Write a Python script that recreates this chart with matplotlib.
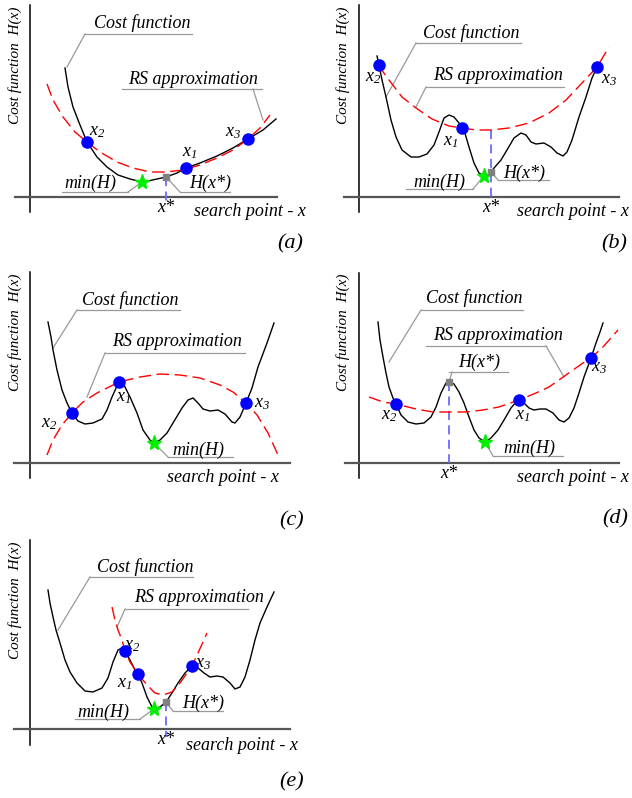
import numpy as np
import matplotlib.pyplot as plt

plt.rcParams['font.family'] = ['Liberation Serif', 'DejaVu Serif']
plt.rcParams['font.style'] = 'italic'
plt.rcParams['mathtext.fontset'] = 'custom'
plt.rcParams['mathtext.it'] = 'Liberation Serif:italic'
plt.rcParams['mathtext.rm'] = 'Liberation Serif:italic'

# values (x = distance from y axis, y = height above x axis)
# --- (a)
cost_a_x = [35, 38, 43, 50, 57, 67, 77, 88, 100, 112, 118, 127, 136, 147, 156, 170, 187, 203, 218, 233, 246]
cost_a_y = [129, 110, 90, 72, 55, 40, 30, 22, 18, 15, 16, 18, 20, 24, 29, 34, 41, 49, 58, 67, 78]
rs_a_x = [17, 23, 33, 45, 57, 70, 87, 103, 120, 136, 153, 170, 187, 203, 218, 230, 240]
rs_a_y = [113, 97, 80, 65, 55, 45, 35, 29, 25, 25, 27, 32, 39, 47, 58, 69, 82]
pts_a_x = [156, 57, 218]  # x1, x2, x3
pts_a_y = [29, 55, 58]
min_a = (112, 15)
hx_a = (136, 20)

# --- (b)
cost_b_x = [18, 20, 23, 27, 32, 37, 43, 52, 60, 68, 75, 80, 85, 90, 95, 100, 105, 110, 115, 120,
            125, 130, 135, 142, 148, 155, 162, 167, 172, 177, 185, 192, 198, 204, 208, 213, 220,
            227, 233, 239]
cost_b_y = [141, 132, 117, 100, 77, 60, 47, 40, 40, 43, 52, 65, 79, 82, 80, 74, 67, 50, 34, 24,
            21, 23, 29, 37, 47, 59, 64, 62, 55, 53, 54, 50, 44, 41, 45, 57, 80,
            100, 119, 132]
rs_b_x = [19, 30, 43, 57, 73, 90, 103, 117, 132, 150, 170, 190, 207, 223, 238, 250]
rs_b_y = [132, 117, 100, 89, 78, 71, 69, 67, 67, 69, 74, 84, 97, 114, 130, 150]
pts_b_x = [103, 20, 238]
pts_b_y = [69, 132, 130]
min_b = (125, 21)
hx_b = (132, 25)

# --- (c)
cost_c_x = [18, 21, 23, 27, 32, 37, 42, 48, 55, 63, 72, 77, 82, 87, 89, 94, 100, 107, 113, 120,
            124, 130, 137, 143, 152, 158, 163, 168, 173, 180, 188, 195, 202, 205, 210, 216, 222,
            228, 237, 244]
cost_c_y = [141, 126, 113, 93, 73, 60, 50, 42, 39, 40, 44, 53, 66, 77, 81, 78, 66, 50, 33, 23,
            20, 23, 30, 40, 55, 63, 65, 60, 54, 52, 53, 49, 41, 40, 46, 60, 75,
            96, 120, 140]
rs_c_x = [17, 23, 32, 42, 53, 67, 89, 110, 130, 150, 170, 190, 203, 216, 227, 238, 248]
rs_c_y = [8, 23, 38, 50, 61, 70, 81, 86, 89, 88, 85, 78, 71, 60, 48, 30, 8]
pts_c_x = [89, 42, 216]
pts_c_y = [81, 50, 60]
min_c = (124, 20)

# --- (d)
cost_d_x = [19, 21, 24, 27, 30, 34, 37, 42, 49, 57, 65, 72, 77, 82, 87, 90, 95, 100, 105, 110,
            115, 120, 126, 132, 139, 145, 152, 157, 160, 165, 170, 175, 181, 187, 194, 200, 205,
            210, 215, 220, 225, 232, 237, 241, 244]
cost_d_y = [141, 123, 106, 90, 76, 65, 59, 48, 41, 39, 40, 46, 56, 70, 80, 81, 79, 71, 60, 46,
            33, 25, 21, 25, 33, 43, 55, 61, 63, 60, 55, 53, 54, 54, 50, 43, 41,
            45, 55, 70, 86, 105, 120, 131, 140]
rs_d_x = [10, 24, 37, 57, 74, 90, 107, 124, 140, 160, 177, 190, 207, 224, 232, 244, 259]
rs_d_y = [66, 61, 59, 54, 51, 51, 51, 53, 56, 63, 70, 76, 88, 100, 105, 116, 133]
pts_d_x = [160, 37, 232]
pts_d_y = [63, 59, 105]
min_d = (126, 21)
hx_d = (90, 81)

# --- (e)
cost_e_x = [18, 20, 23, 26, 30, 35, 40, 47, 55, 63, 72, 78, 83, 88, 92, 95, 100, 105, 108, 112,
            117, 122, 124, 130, 136, 142, 148, 155, 162, 168, 174, 180, 187, 193, 200, 205, 210,
            215, 220, 225, 230, 237, 244]
cost_e_y = [139, 126, 112, 99, 86, 69, 57, 46, 38, 37, 41, 51, 67, 79, 81, 78, 69, 59, 55, 46,
            32, 22, 20, 22, 27, 36, 46, 56, 63, 61, 56, 52, 53, 52, 46, 40, 42,
            52, 69, 89, 106, 122, 137]
rs_e_x = [82, 85, 88, 92, 95, 100, 108, 117, 125, 133, 142, 150, 157, 162, 168, 173, 177]
rs_e_y = [122, 109, 99, 89, 78, 67, 55, 44, 36, 34, 37, 46, 56, 63, 76, 87, 96]
pts_e_x = [108, 95, 162]
pts_e_y = [55, 78, 63]
min_e = (124, 20)
hx_e = (136, 27)

FS = 13
GRAY = '#999999'


def callout(ax, text, tx, ty, ux0, ux1, uy, p0, p1):
    ax.text(tx, ty, text, fontsize=FS, ha='center', va='center')
    ax.plot([ux0, ux1], [uy, uy], color=GRAY, lw=0.9, clip_on=False)
    ax.plot([p0[0], p1[0]], [p0[1], p1[1]], color=GRAY, lw=0.9, clip_on=False)


def panel(box, origin, yspan, xspan):
    L, T, W, H = box
    ox, oy = origin
    ax = fig.add_axes([L / 632, 1 - (T + H) / 798, W / 632, H / 798])
    ax.set_xlim(L - ox, L + W - ox)
    ax.set_ylim(oy - (T + H), oy - T)
    ax.axis('off')
    ax.plot([0, 0], yspan, color='black', lw=1.1, clip_on=False)
    ax.plot(xspan, [0, 0], color='#555555', lw=1.6, clip_on=False)
    return ax


def draw(ax, cx, cy, rx, ry, px, py, star, labels, search, ylab, tag, square=None, xstar=None):
    ax.plot(cx, cy, color='black', lw=1.0, zorder=3)
    ax.plot(rx, ry, color='red', lw=1.0, dashes=(9, 4), zorder=3)
    if xstar is not None:
        ax.plot([xstar[0], xstar[0]], [xstar[1], xstar[2]], color='#6b6bff', lw=1.3,
                dashes=(5, 3), zorder=2, clip_on=False)
        ax.text(xstar[0], xstar[3], 'x*', fontsize=FS, ha='center', va='center')
    ax.plot(px, py, 'o', color='#0000ff', ms=8, zorder=5)
    ax.plot(*star, '*', color='#00ee00', ms=11, zorder=6)
    if square is not None:
        ax.plot(*square, 's', color='#808080', ms=5, zorder=6)
    for name, (lx, ly) in zip(['$x_1$', '$x_2$', '$x_3$'], labels):
        ax.text(lx, ly, name, fontsize=FS, ha='center', va='center')
    ax.text(search[0], search[1], 'search point - x', fontsize=FS, ha='center', va='center')
    ax.text(ylab[0], ylab[1], 'Cost function  H(x)', fontsize=11, rotation=90,
            ha='center', va='center')
    ax.text(tag[0], tag[1], tag[2], fontsize=16, ha='center', va='center')


fig = plt.figure(figsize=(6.32, 7.98), dpi=100)

# (a)
ax = panel((0, 0, 316, 265), (30, 197), [192, -15], [-15, 247])
draw(ax, cost_a_x, cost_a_y, rs_a_x, rs_a_y, pts_a_x, pts_a_y, min_a,
     [(160, 44), (67, 65), (203, 64)], (220, -15), (-15, 132), (260, -47, '(a)'),
     square=hx_a, xstar=(136, 20, -5, -11))
callout(ax, 'Cost function', 112, 174, 55, 162, 163, (55, 163), (37, 130))
callout(ax, 'RS approximation', 163, 118, 92, 232, 108, (223, 108), (233, 77))
callout(ax, 'min(H)', 60, 14, 32, 98, 5, (98, 5), (112, 15))
callout(ax, 'H(x*)', 180, 14, 150, 200, 5, (150, 5), (138, 18))

# (b)
ax = panel((316, 0, 316, 265), (359, 197), [192, -15], [-15, 260])
draw(ax, cost_b_x, cost_b_y, rs_b_x, rs_b_y, pts_b_x, pts_b_y, min_b,
     [(92, 55), (14, 119), (250, 117)], (214, -15), (-16, 132), (255, -47, '(b)'),
     square=hx_b, xstar=(132, 67, 0, -11))
callout(ax, 'Cost function', 112, 164, 57, 162, 154, (57, 154), (27, 100))
callout(ax, 'RS approximation', 139, 121, 67, 205, 110, (67, 110), (57, 90))
callout(ax, 'min(H)', 80, 15, 47, 114, 8, (114, 8), (125, 21))
callout(ax, 'H(x*)', 165, 24, 139, 190, 17, (139, 17), (132, 25))

# (c)
ax = panel((0, 265, 316, 265), (30, 463), [191, -15], [-16, 260])
draw(ax, cost_c_x, cost_c_y, rs_c_x, rs_c_y, pts_c_x, pts_c_y, min_c,
     [(94, 65), (19, 40), (232, 60)], (193, -15), (-15, 131), (262, -58, '(c)'))
callout(ax, 'Cost function', 100, 163, 47, 150, 153, (47, 153), (23, 115))
callout(ax, 'RS approximation', 147, 121, 75, 215, 110, (75, 110), (57, 66))
callout(ax, 'min(H)', 168, 13, 138, 203, 6, (138, 6), (124, 20))

# (d)
ax = panel((316, 265, 316, 265), (359, 463), [190, -15], [-14, 260])
draw(ax, cost_d_x, cost_d_y, rs_d_x, rs_d_y, pts_d_x, pts_d_y, min_d,
     [(164, 48), (30, 48), (240, 95)], (214, -15), (-16, 131), (256, -56, '(d)'),
     square=hx_d, xstar=(90, 81, 0, -11))
callout(ax, 'Cost function', 115, 165, 62, 164, 153, (62, 153), (30, 101))
callout(ax, 'RS approximation', 139, 128, 67, 187, 117, (187, 117), (205, 86))
callout(ax, 'min(H)', 170, 15, 134, 204, 7, (134, 7), (126, 21))
callout(ax, 'H(x*)', 120, 101, 90, 149, 91, (93, 91), (90, 81))

# (e)
ax = panel((0, 530, 316, 268), (30, 729), [189, -16], [-16, 260])
draw(ax, cost_e_x, cost_e_y, rs_e_x, rs_e_y, pts_e_x, pts_e_y, min_e,
     [(95, 45), (102, 84), (173, 65)], (212, -16), (-15, 129), (262, -53, '(e)'),
     square=hx_e, xstar=(136, 27, -8, -11))
callout(ax, 'Cost function', 115, 162, 60, 163, 152, (60, 152), (28, 99))
callout(ax, 'RS approximation', 169, 131, 95, 218, 120, (95, 120), (87, 102))
callout(ax, 'min(H)', 73, 17, 45, 110, 10, (110, 10), (124, 20))
callout(ax, 'H(x*)', 173, 26, 143, 193, 18, (143, 18), (136, 27))

fig.savefig('out.png', dpi=100)
